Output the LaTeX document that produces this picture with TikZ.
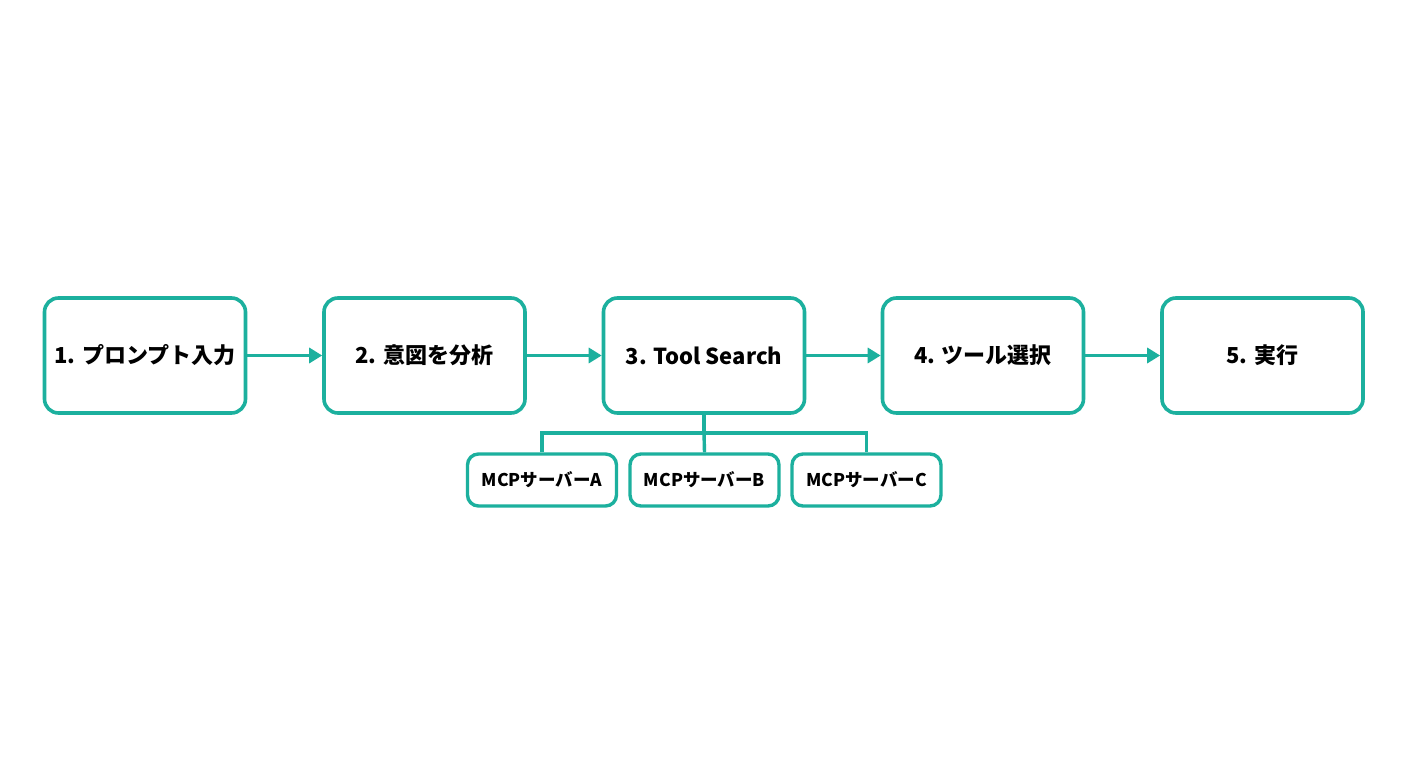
\documentclass[tikz,border=0pt]{standalone}
\usepackage{fontspec}
\setmainfont{Noto Sans CJK JP}
\usetikzlibrary{arrows.meta}
\definecolor{teal1}{RGB}{28,176,158}
\tikzset{
  mainbox/.style={draw=teal1, line width=3.6pt, rounded corners=14pt, fill=white,
    minimum width=201pt, minimum height=115pt, inner sep=0pt, font=\fontsize{22}{26}\selectfont\bfseries},
  subbox/.style={draw=teal1, line width=3.4pt, rounded corners=11pt, fill=white,
    minimum width=149pt, minimum height=52pt, inner sep=0pt, font=\fontsize{17.5}{20}\selectfont\bfseries},
  flow/.style={draw=teal1, line width=3.6pt, -{Triangle[length=13pt,width=15pt]}},
  link/.style={draw=teal1, line width=3.4pt}
}
\begin{document}
\begin{tikzpicture}[x=1pt,y=1pt]
\useasboundingbox (0,0) rectangle (1408,768);
\fill[white] (0,0) rectangle (1408,768);
\node[mainbox] (b1) at (145,412.5) {1. プロンプト入力};
\node[mainbox] (b2) at (424.5,412.5) {2. 意図を分析};
\node[mainbox] (b3) at (704,412.5) {3. Tool Search};
\node[mainbox] (b4) at (983,412.5) {4. ツール選択};
\node[mainbox] (b5) at (1262.5,412.5) {5. 実行};
\node[subbox] (sa) at (542,288) {MCPサーバーA};
\node[subbox] (sb) at (704.5,288) {MCPサーバーB};
\node[subbox] (sc) at (866.5,288) {MCPサーバーC};
\coordinate (j) at (704,335);
\draw[flow] (b1.east) -- (b2.west);
\draw[flow] (b2.east) -- (b3.west);
\draw[flow] (b3.east) -- (b4.west);
\draw[flow] (b4.east) -- (b5.west);
\draw[link] (b3.south) -- (j);
\draw[link] (sa.north) |- (j) -| (sc.north);
\draw[link] (j) -- (sb.north);
\end{tikzpicture}
\end{document}
